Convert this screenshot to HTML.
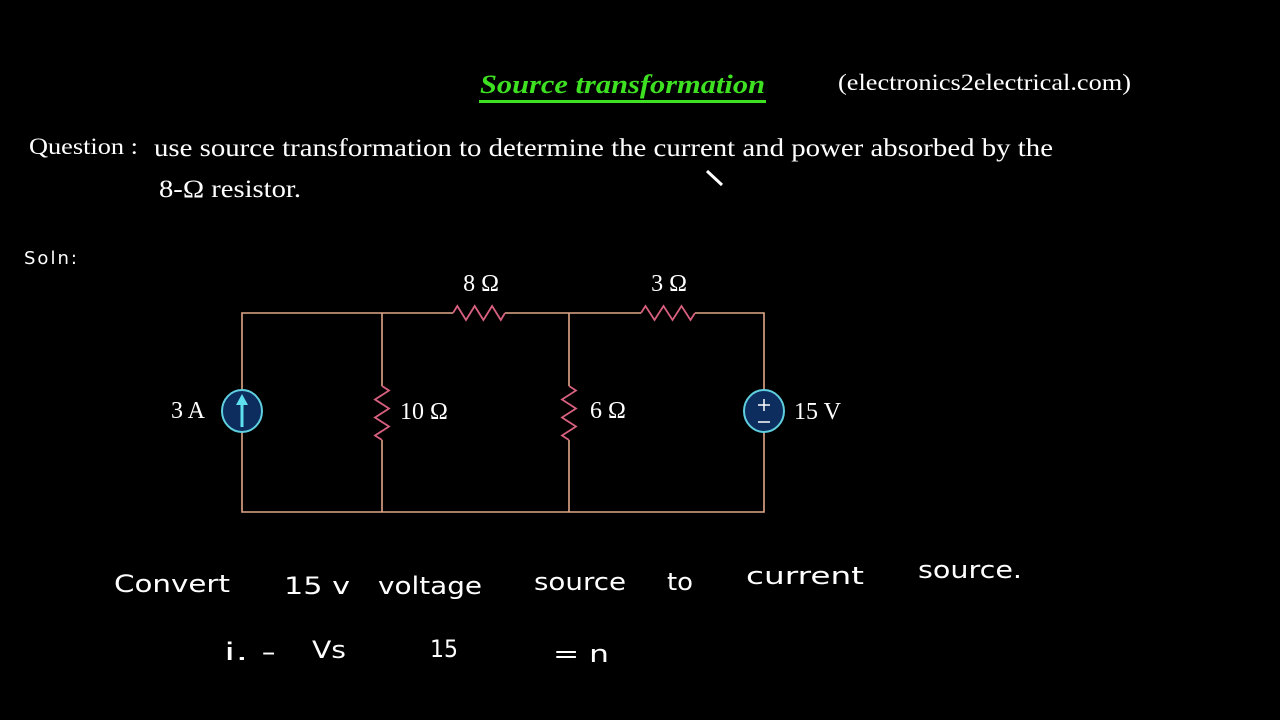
<!DOCTYPE html>
<html><head><meta charset="utf-8"><style>
html,body{margin:0;padding:0;background:#000;width:1280px;height:720px;overflow:hidden}
svg{display:block}
.s{font-family:"Liberation Serif",serif;fill:#fff}
.h{font-family:"DejaVu Sans",sans-serif;fill:#fff;font-weight:normal}
</style></head><body>
<svg width="1280" height="720" viewBox="0 0 1280 720">
<rect width="1280" height="720" fill="#000"/>
<text x="480" y="93" textLength="285" lengthAdjust="spacingAndGlyphs" font-family="Liberation Serif,serif" font-style="italic" font-weight="bold" font-size="26" fill="#3ee022">Source transformation</text>
<rect x="479" y="100" width="287" height="3" fill="#3ee022"/>
<text class="s" x="838" y="90" font-size="23" textLength="293" lengthAdjust="spacingAndGlyphs">(electronics2electrical.com)</text>
<text class="s" x="29" y="154" font-size="23" textLength="109" lengthAdjust="spacingAndGlyphs">Question :</text>
<text class="s" x="154" y="156" font-size="25" textLength="899" lengthAdjust="spacingAndGlyphs">use source transformation to  determine the current and power absorbed by the</text>
<text class="s" x="159" y="197" font-size="25" textLength="142" lengthAdjust="spacingAndGlyphs">8-Ω resistor.</text>
<path d="M707 171 L722 185" stroke="#fff" stroke-width="3"/>
<text class="h" x="24" y="264" font-size="18" letter-spacing="2">Soln:</text>
<g stroke="#e0a888" stroke-width="1.6" fill="none">
<path d="M242 391 V313 H453 M505 313 H641 M695 313 H764 V391 M764 431 V512 H242 V431"/>
<path d="M382 313 V386 M382 440 V512 M569 313 V386 M569 440 V512"/>
</g>
<g stroke="#d8607f" stroke-width="1.8" fill="none">
<path d="M453 313 l4.3 -7 l8.7 14 l8.7 -14 l8.7 14 l8.7 -14 l8.7 14 l4.2 -7"/>
<path d="M641 313 l4.5 -7 l9 14 l9 -14 l9 14 l9 -14 l9 14 l4.5 -7"/>
<path d="M382 386 l7 4.5 l-14 9 l14 9 l-14 9 l14 9 l-14 9 l7 4.5"/>
<path d="M569 386 l7 4.5 l-14 9 l14 9 l-14 9 l14 9 l-14 9 l7 4.5"/>
</g>
<ellipse cx="242" cy="411" rx="20" ry="21" fill="#0c2d5e" stroke="#5fcfe0" stroke-width="2"/>
<path d="M242 427 V402" stroke="#5fe0ee" stroke-width="3"/>
<path d="M236 405 L242 394 L248 405 Z" fill="#5fe0ee"/>
<ellipse cx="764" cy="411" rx="20" ry="21" fill="#0c2d5e" stroke="#5fcfe0" stroke-width="2"/>
<path d="M758 405 H770 M764 399 V411 M758 422 H770" stroke="#fff" stroke-width="1.5"/>
<text class="s" x="481" y="291" font-size="24" text-anchor="middle">8 Ω</text>
<text class="s" x="669" y="291" font-size="24" text-anchor="middle">3 Ω</text>
<text class="s" x="171" y="418" font-size="24">3 A</text>
<text class="s" x="400" y="419" font-size="24">10 Ω</text>
<text class="s" x="590" y="418" font-size="24">6 Ω</text>
<text class="s" x="794" y="419" font-size="24">15 V</text>
<g class="h" font-size="24">
<text x="114" y="592" textLength="116" lengthAdjust="spacingAndGlyphs">Convert</text>
<text x="284" y="594" textLength="66" lengthAdjust="spacingAndGlyphs">15 v</text>
<text x="378" y="594" textLength="104" lengthAdjust="spacingAndGlyphs">voltage</text>
<text x="534" y="590" textLength="92" lengthAdjust="spacingAndGlyphs">source</text>
<text x="667" y="590" textLength="26" lengthAdjust="spacingAndGlyphs">to</text>
<text x="746" y="584" textLength="118" lengthAdjust="spacingAndGlyphs">current</text>
<text x="918" y="578" textLength="104" lengthAdjust="spacingAndGlyphs">source.</text>
<text x="224" y="660" textLength="52" lengthAdjust="spacingAndGlyphs">i. -</text>
<text x="312" y="658" textLength="34" lengthAdjust="spacingAndGlyphs">Vs</text>
<text x="430" y="657" textLength="28" lengthAdjust="spacingAndGlyphs">15</text>
<text x="553" y="662" textLength="56" lengthAdjust="spacingAndGlyphs">= n</text>
</g>
</svg>
</body></html>
